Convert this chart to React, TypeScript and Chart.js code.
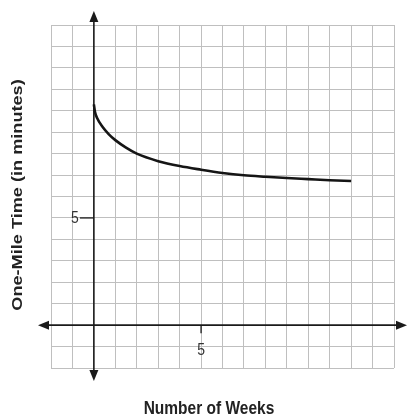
import React, { useEffect, useRef } from "react";
import { Chart, registerables } from "chart.js";

Chart.register(...registerables);

// Data
const weeks = [0, 0.05, 0.15, 0.4, 0.7, 1, 1.5, 2, 3, 4, 5, 6, 7, 8, 9, 10, 11, 12];
const times = [10.3, 9.95, 9.66, 9.25, 8.9, 8.63, 8.28, 8.0, 7.65, 7.42, 7.25, 7.1, 6.99, 6.92, 6.86, 6.81, 6.76, 6.72];
const xTickLabels = [5];
const yTickLabels = [5];
const xTitle = "Number of Weeks";
const yTitle = "One-Mile Time (in minutes)";
const xMin = -2, xMax = 14, yMin = -2, yMax = 14;

const axesPlugin = {
  id: "mathAxes",
  beforeDatasetsDraw(chart: any) {
    const { ctx, chartArea, scales } = chart;
    const xs = scales.x, ys = scales.y;
    const x0 = xs.getPixelForValue(0);
    const y0 = ys.getPixelForValue(0);
    ctx.save();
    ctx.strokeStyle = "#1a1a1a";
    ctx.fillStyle = "#1a1a1a";
    ctx.lineWidth = 1.6;
    const yTop = chartArea.top - 14;
    const yBot = chartArea.bottom + 13;
    ctx.beginPath();
    ctx.moveTo(x0, yTop + 6);
    ctx.lineTo(x0, yBot - 6);
    ctx.stroke();
    const xLeft = chartArea.left - 13;
    const xRight = chartArea.right + 13;
    ctx.beginPath();
    ctx.moveTo(xLeft + 6, y0);
    ctx.lineTo(xRight - 6, y0);
    ctx.stroke();
    const tri = (pts: number[][]) => {
      ctx.beginPath();
      ctx.moveTo(pts[0][0], pts[0][1]);
      ctx.lineTo(pts[1][0], pts[1][1]);
      ctx.lineTo(pts[2][0], pts[2][1]);
      ctx.closePath();
      ctx.fill();
    };
    tri([[x0, yTop], [x0 - 4.5, yTop + 11], [x0 + 4.5, yTop + 11]]);
    tri([[x0, yBot], [x0 - 4.5, yBot - 11], [x0 + 4.5, yBot - 11]]);
    tri([[xLeft, y0], [xLeft + 11, y0 - 4.5], [xLeft + 11, y0 + 4.5]]);
    tri([[xRight, y0], [xRight - 11, y0 - 4.5], [xRight - 11, y0 + 4.5]]);

    ctx.lineWidth = 1.3;
    ctx.font = '14px "Liberation Sans", Arial, sans-serif';
    ctx.textAlign = "center";
    ctx.textBaseline = "alphabetic";
    ctx.fillStyle = "#333";
    xTickLabels.forEach((v) => {
      const px = xs.getPixelForValue(v);
      ctx.beginPath();
      ctx.moveTo(px, y0);
      ctx.lineTo(px, y0 + 8);
      ctx.stroke();
      ctx.save();
      ctx.translate(px, y0 + 30);
      ctx.scale(1, 1.17);
      ctx.fillText(String(v), 0, 0);
      ctx.restore();
    });
    yTickLabels.forEach((v) => {
      const py = ys.getPixelForValue(v);
      ctx.beginPath();
      ctx.moveTo(x0 - 14, py);
      ctx.lineTo(x0, py);
      ctx.stroke();
      ctx.save();
      ctx.translate(x0 - 19, py + 5);
      ctx.scale(1, 1.17);
      ctx.fillText(String(v), 0, 0);
      ctx.restore();
    });

    ctx.fillStyle = "#222";
    ctx.font = 'bold 15.5px "Liberation Sans", Arial, sans-serif';
    ctx.save();
    ctx.translate(209, 414);
    ctx.scale(1, 1.17);
    ctx.fillText(xTitle, 0, 0);
    ctx.restore();
    ctx.save();
    ctx.translate(22, 195);
    ctx.rotate(-Math.PI / 2);
    ctx.scale(1.17, 1);
    ctx.fillText(yTitle, 0, 0);
    ctx.restore();
    ctx.restore();
  },
};

export default function App() {
  const ref = useRef<HTMLCanvasElement | null>(null);
  useEffect(() => {
    if (!ref.current) return;
    const gridOpts = { color: "#bfbfbf", lineWidth: 1, drawTicks: false, tickLength: 0 };
    const chart = new Chart(ref.current, {
      type: "line",
      data: {
        datasets: [
          {
            data: weeks.map((w, i) => ({ x: w, y: times[i] })),
            borderColor: "#151515",
            borderWidth: 2.6,
            pointRadius: 0,
            fill: false,
            cubicInterpolationMode: "monotone",
          },
        ],
      },
      options: {
        animation: false,
        responsive: true,
        maintainAspectRatio: false,
        layout: { padding: { left: 51, right: 15, top: 25, bottom: 49 } },
        plugins: { legend: { display: false }, tooltip: { enabled: false } },
        scales: {
          x: {
            type: "linear",
            min: xMin,
            max: xMax,
            ticks: { display: false, stepSize: 1 },
            grid: gridOpts,
            border: { display: false },
          },
          y: {
            type: "linear",
            min: yMin,
            max: yMax,
            ticks: { display: false, stepSize: 1 },
            grid: gridOpts,
            border: { display: false },
          },
        },
      },
      plugins: [axesPlugin],
    } as any);
    return () => chart.destroy();
  }, []);
  return (
    <div style={{ position: "absolute", left: 0, top: 0, width: 409, height: 417, background: "#fff" }}>
      <canvas ref={ref} />
    </div>
  );
}
